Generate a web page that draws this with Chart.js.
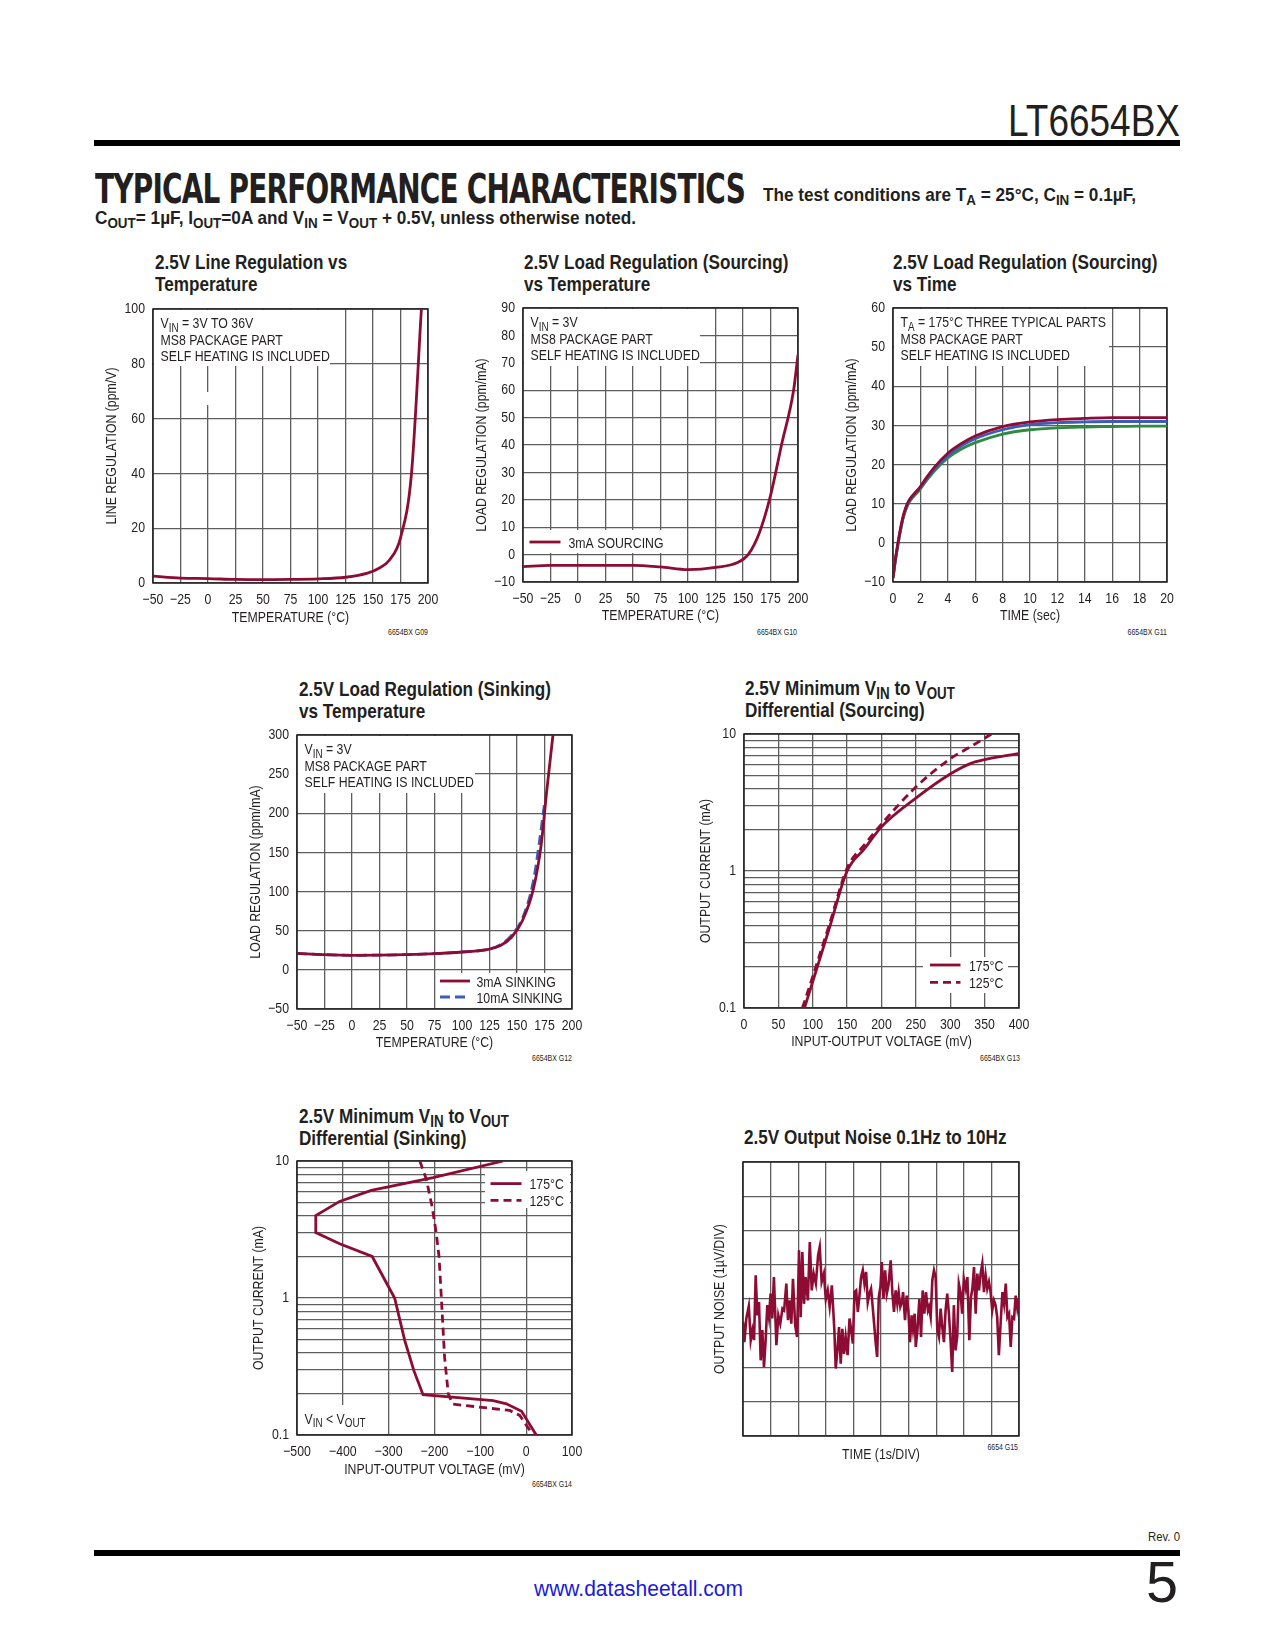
<!DOCTYPE html>
<html>
<head>
<meta charset="utf-8">
<script src="https://cdn.jsdelivr.net/npm/chart.js@4.4.1/dist/chart.umd.min.js"></script>
<style>
  body { margin: 0; background: #fff; }
  #page { position: relative; width: 1275px; height: 1650px; overflow: hidden;
          font-family: 'Liberation Sans', Arial, sans-serif; color: #231f20; }
  .abs { position: absolute; white-space: nowrap; }
  .rule { position: absolute; background: #000; }
  .ttl { position: absolute; white-space: nowrap; font-weight: bold; font-size: 20.5px; line-height: 22px;
         transform: scaleX(0.835); transform-origin: left top; }
  sub { font-size: 0.78em; vertical-align: -0.28em; line-height: 0; }
  .gid { position: absolute; width: 100px; text-align: right; font-size: 8.5px; line-height: 10px;
         transform: scaleX(0.82); transform-origin: right top; }
  canvas { position: absolute; }
</style>
</head>
<body>
<div id="page">
  <div class="abs" data-fit="172" style="left:1008px; top:96px; font-size:45px; line-height:50px; font-weight:300;">LT6654BX</div>
  <div class="rule" style="left:94px; top:140px; width:1086px; height:6px;"></div>

  <div class="abs" data-fit="650" style="left:95px; top:168px; font-family:'DejaVu Sans Condensed','DejaVu Sans',sans-serif; font-weight:bold; font-size:40px; line-height:42px; letter-spacing:-1px;">TYPICAL PERFORMANCE CHARACTERISTICS</div>
  <div class="abs" data-fit="373" style="left:763px; top:184px; font-weight:bold; font-size:19px; line-height:21px;">The test conditions are T<sub>A</sub> = 25°C, C<sub>IN</sub> = 0.1µF,</div>
  <div class="abs" data-fit="541" style="left:95px; top:207px; font-weight:bold; font-size:19px; line-height:21px;">C<sub>OUT</sub>= 1µF, I<sub>OUT</sub>=0A and V<sub>IN</sub> = V<sub>OUT</sub> + 0.5V, unless otherwise noted.</div>

  <div class="ttl" style="left:155px; top:250.5px;">2.5V Line Regulation vs<br>Temperature</div>
  <div class="ttl" style="left:524px; top:250.5px;">2.5V Load Regulation (Sourcing)<br>vs Temperature</div>
  <div class="ttl" style="left:893px; top:250.5px;">2.5V Load Regulation (Sourcing)<br>vs Time</div>
  <div class="ttl" style="left:299px; top:678px;">2.5V Load Regulation (Sinking)<br>vs Temperature</div>
  <div class="ttl" style="left:745px; top:676.5px;">2.5V Minimum V<sub>IN</sub> to V<sub>OUT</sub><br>Differential (Sourcing)</div>
  <div class="ttl" style="left:299px; top:1104.5px;">2.5V Minimum V<sub>IN</sub> to V<sub>OUT</sub><br>Differential (Sinking)</div>
  <div class="ttl" style="left:744px; top:1126px;">2.5V Output Noise 0.1Hz to 10Hz</div>

  <div class="gid" style="left:328px; top:627px;">6654BX G09</div>
  <div class="gid" style="left:697px; top:627px;">6654BX G10</div>
  <div class="gid" style="left:1067px; top:627px;">6654BX G11</div>
  <div class="gid" style="left:472px; top:1053px;">6654BX G12</div>
  <div class="gid" style="left:920px; top:1053px;">6654BX G13</div>
  <div class="gid" style="left:472px; top:1479px;">6654BX G14</div>
  <div class="gid" style="left:918px; top:1442px;">6654 G15</div>

  <div class="abs" data-fit="32" style="left:1148px; top:1530px; font-size:12px; line-height:14px;">Rev. 0</div>
  <div class="rule" style="left:94px; top:1550px; width:1086px; height:6px;"></div>
  <div class="abs" data-fit="209" style="left:534px; top:1576px; font-size:22px; line-height:26px; color:#1a1ad8;">www.datasheetall.com</div>
  <div class="abs" data-fit="32" style="left:1146px; top:1551px; font-size:58px; line-height:62px; font-weight:300;">5</div>
</div>

<script>
// ---- data ----

// 2.5V line regulation vs temperature (ppm/V)
const lineRegTemp = [-50, -25, 0, 25, 50, 75, 100, 125, 145, 155, 165, 175, 185, 194];
const lineRegPpm  = [2.5, 1.8, 1.6, 1.3, 1.2, 1.3, 1.5, 2.1, 3.6, 5.3, 8.4, 16.5, 40, 100];

// 2.5V load regulation (sourcing) vs temperature (ppm/mA)
const srcTemp = [-50, -25, 0, 25, 50, 75, 100, 125, 145, 155, 165, 175, 185, 196, 200];
const srcPpm  = [-4.4, -3.9, -3.9, -3.9, -3.9, -4.5, -5.5, -4.7, -2.9, 0.2, 8.1, 21.5, 40, 60, 73];

// 2.5V load regulation (sourcing) vs time, three parts at 175°C
const timeSec   = [0, 0.2, 0.8, 2, 3, 4, 5, 6, 8, 10, 12, 14, 16, 18, 20];
const partRed   = [-9, -3.5, 7.6, 14.4, 19.2, 22.9, 25.4, 27.3, 29.7, 30.9, 31.5, 31.8, 32, 32, 32];
const partBlue  = [-9, -3.8, 7.3, 14.2, 18.8, 22.3, 24.8, 26.6, 28.9, 30.2, 30.7, 30.9, 31, 31, 31];
const partGreen = [-9, -4, 7.0, 13.8, 18.3, 21.7, 24.0, 25.6, 27.8, 28.9, 29.4, 29.6, 29.7, 29.8, 29.8];

// 2.5V load regulation (sinking) vs temperature (ppm/mA)
const sink3Temp  = [-50, -25, 0, 25, 50, 75, 100, 125, 135, 145, 155, 165, 172, 177, 182.7];
const sink3Ppm   = [21, 19.4, 18.6, 18.8, 19.5, 20.7, 22.8, 26.6, 31, 41.6, 63, 104, 160, 228, 300];
const sink10Temp = [-50, -25, 0, 25, 50, 75, 100, 125, 135, 145, 155, 165, 170, 175];
const sink10Ppm  = [21, 19.4, 18.6, 18.8, 19.5, 20.7, 22.8, 26.6, 32, 44, 66, 114, 160, 212];

// minimum Vin-Vout differential, sourcing (mV -> mA)
const srcMv175 = [88, 100, 125, 150, 175, 200, 250, 300, 330, 350, 400];
const srcMa175 = [0.1, 0.156, 0.395, 1.0, 1.45, 2.1, 3.4, 5.1, 6.1, 6.5, 7.2];
const srcMv125 = [85, 100, 125, 150, 175, 200, 250, 300, 330, 360];
const srcMa125 = [0.1, 0.17, 0.42, 1.05, 1.55, 2.2, 4.1, 6.6, 8.1, 10];

// minimum Vin-Vout differential, sinking (mV -> mA)
const snkMv175 = [-50, -203, -338, -407, -459, -459, -407, -336, -287, -265, -245, -225, -72, -43, -10, 22];
const snkMa175 = [10, 7.55, 6.1, 5.07, 4.0, 3.0, 2.49, 2.01, 1.0, 0.49, 0.295, 0.197, 0.178, 0.169, 0.149, 0.1];
const snkMv125 = [-232, -218, -205, -196, -190, -185, -178, -170, -160, -36, -14, 15];
const snkMa125 = [10, 7.4, 4.6, 2.94, 1.99, 1.0, 0.37, 0.2, 0.168, 0.151, 0.139, 0.1];

const logTicks = [0.1, 0.2, 0.3, 0.4, 0.5, 0.6, 0.7, 0.8, 0.9, 1, 2, 3, 4, 5, 6, 7, 8, 9, 10];

// output noise 0.1Hz to 10Hz (time in divisions, noise in µV)
const noiseT = [0.00,0.05,0.12,0.21,0.28,0.34,0.40,0.46,0.52,0.58,0.64,0.70,0.76,0.82,0.88,0.94,1.00,1.06,1.12,1.21,
  1.28,1.35,1.43,1.49,1.57,1.63,1.69,1.75,1.81,1.89,1.96,2.03,2.09,2.15,2.21,2.27,2.35,2.42,2.49,2.56,
  2.64,2.72,2.78,2.85,2.93,3.00,3.07,3.14,3.22,
  3.31,3.36,3.42,3.48,3.54,3.60,3.66,3.72,3.79,3.86,3.92,3.98,4.04,4.10,4.16,4.22,4.28,4.34,4.40,4.46,
  4.52,4.58,4.64,4.69,4.75,4.81,4.86,4.92,4.98,5.03,5.09,5.15,5.21,5.27,5.35,5.41,5.47,5.53,5.59,5.64,
  5.70,5.76,5.80,5.87,5.93,5.99,6.05,6.11,6.16,6.22,6.26,6.32,6.39,6.45,6.51,6.57,6.63,6.70,
  6.74,6.80,6.86,6.92,6.98,7.04,7.10,7.16,7.22,7.28,7.34,7.40,7.46,7.52,7.58,7.64,7.70,7.76,7.82,7.88,
  7.94,8.00,8.07,8.13,8.20,8.26,8.31,8.37,8.43,8.49,8.55,8.61,8.67,8.73,8.79,8.85,8.91,8.97,9.03,9.09,
  9.15,9.21,9.27,9.34,9.40,9.46,9.52,9.58,9.64,9.70,9.76,9.82,9.88,9.94,10.00];
const noiseUv = [-0.67,-1.26,-0.57,-0.21,-1.2,-0.91,-1.2,0.69,-0.48,-0.09,-1.79,-0.91,-1.99,-1.2,-0.18,-0.53,0.16,-0.57,0.64,-1.35,
  -0.48,-0.72,-0.28,-0.33,0.45,-0.62,-0.04,-0.72,0.59,-0.77,-1.11,1.42,-0.53,1.37,-0.14,0.64,-0.04,1.66,0.25,0.74,
  0.45,1.27,1.52,0.5,0.74,0,0.25,-0.23,0.4,
  -0.91,-2.03,-1.5,-0.82,-1.89,-0.87,-1.6,-1.11,-1.64,-0.57,-0.91,-1.3,0.2,0.25,-0.38,0.1,0.64,0.84,0.45,0.79,
  -0.09,0.16,0.3,-0.14,-0.72,-1.3,-1.69,0.06,0.35,1.08,0,0.84,0.16,0.4,1.13,0.2,-0.38,0.25,-0.14,0.2,
  -0.23,-0.09,0.2,-0.62,0.1,-0.33,-1.26,-0.48,-0.87,-0.43,-1.4,-0.91,0,-1.11,0.25,-0.43,0.2,-0.33,
  -0.23,-0.53,0.55,0.84,0.64,-0.91,-1.11,-0.28,-0.82,-1.26,-0.33,0.16,-0.43,-1.2,-2.13,-0.18,-1.5,-1.11,0.45,0.2,
  -0.43,0.59,0.3,0.64,-1.2,0.06,0.3,0.93,-0.43,0.74,0.25,0.74,1.03,0.2,0.69,0.3,0.5,0.2,-0.33,-0.04,
  -0.18,-0.53,-1.64,-0.62,0.2,-0.14,0.45,-0.53,-0.43,-1.4,-0.53,-0.57,0.1,-0.28,0];

// ---- drawing ----
const FONT = "'Liberation Sans', Arial, sans-serif";
const NARROW = 0.82;              // no narrow face installed: squeeze the regular one
const TXT = 15;
const INK = '#231f20', GRID = '#5e5e5e';
const RED = '#8c0c34', BLUE = '#3b5cb8', GREEN = '#2f8a42';
const PAD_TOP = 20, PAD_RIGHT = 24;
Chart.defaults.font.family = FONT;
Chart.defaults.color = INK;

const pts = (xs, ys) => xs.map((x, i) => ({ x: x, y: ys[i] }));
const minus = v => String(v).replace('-', '\u2212');

// text like "V{IN} = 3V" : braces mark a subscript
function drawRich(ctx, x, y, str, size) {
  str.split(/(\{[^}]*\})/).forEach(part => {
    if (!part) return;
    const sub = part[0] === '{';
    const t = sub ? part.slice(1, -1) : part;
    ctx.font = (sub ? size * 0.8 : size) + 'px ' + FONT;
    ctx.fillText(t, x, sub ? y + 3.5 : y);
    x += ctx.measureText(t).width * NARROW;
  });
}

const notesPlugin = {
  id: 'notes',
  beforeDatasetsDraw(chart, args, o) {
    const { ctx, chartArea: a } = chart;
    ctx.save();
    ctx.fillStyle = '#fff';
    (o.boxes || []).forEach(b => ctx.fillRect(a.left + b[0], a.top + b[1], b[2], b[3]));
    ctx.strokeStyle = INK;
    ctx.lineWidth = 1.5;
    ctx.strokeRect(a.left, a.top, a.right - a.left, a.bottom - a.top);
    ctx.fillStyle = INK;
    ctx.textAlign = 'left';
    ctx.textBaseline = 'alphabetic';
    (o.texts || []).forEach(t => drawRich(ctx, a.left + t[0], a.top + t[1], t[2], TXT));
    (o.samples || []).forEach(s => {
      ctx.beginPath();
      ctx.setLineDash(s.dash || []);
      ctx.strokeStyle = s.color;
      ctx.lineWidth = 2.8;
      ctx.moveTo(a.left + s.x1, a.top + s.y);
      ctx.lineTo(a.left + s.x2, a.top + s.y);
      ctx.stroke();
    });
    ctx.restore();
  }
};

function axis(o, fit) {
  const ax = {
    type: o.type || 'linear', min: o.min, max: o.max,
    ticks: { display: o.labels !== false, stepSize: o.step, autoSkip: false, maxRotation: 0,
             padding: 8, font: { size: TXT }, color: INK, callback: o.cb || (v => minus(v)) },
    grid: { color: GRID, lineWidth: 1.3, drawTicks: false },
    border: { display: false },
    title: { display: true, text: o.title, font: { size: TXT }, color: INK, padding: 0 },
    afterFit: fit
  };
  if (o.type === 'logarithmic') {
    ax.afterBuildTicks = s => { s.ticks = logTicks.map(v => ({ value: v })); };
  }
  return ax;
}

const logLabel = v => ([0.1, 1, 10].some(d => Math.abs(v - d) < 1e-9) ? String(v) : '');

function makeChart(g, xo, yo, datasets, notes) {
  const cv = document.createElement('canvas');
  cv.width = g.wy + g.W + PAD_RIGHT;
  cv.height = PAD_TOP + g.H + g.hx;
  cv.style.left = (g.L - g.wy) + 'px';
  cv.style.top = (g.T - PAD_TOP) + 'px';
  document.getElementById('page').appendChild(cv);

  // every label on this canvas is drawn condensed around its anchor point
  const ctx = cv.getContext('2d');
  const rawFill = ctx.fillText.bind(ctx);
  ctx.fillText = function (text, x, y, maxWidth) {
    ctx.save();
    ctx.translate(x, y);
    ctx.scale(NARROW, 1);
    if (maxWidth === undefined) rawFill(text, 0, 0);
    else rawFill(text, 0, 0, maxWidth / NARROW);
    ctx.restore();
  };

  new Chart(cv, {
    type: 'line',
    data: { datasets: datasets },
    options: {
      responsive: false, animation: false, devicePixelRatio: 1,
      layout: { padding: { top: PAD_TOP, right: PAD_RIGHT, left: 0, bottom: 0 } },
      plugins: { legend: { display: false }, tooltip: { enabled: false }, notes: notes },
      elements: { point: { radius: 0 }, line: { borderWidth: 2.8, fill: false } },
      scales: {
        x: axis(xo, s => { s.height = g.hx; }),
        y: axis(yo, s => { s.width = g.wy; })
      }
    },
    plugins: [notesPlugin]
  });
}

const line = (data, color, extra) => Object.assign({ data: data, borderColor: color, cubicInterpolationMode: 'monotone' }, extra || {});
const NOTE3 = (first) => [[7.5, 19, first], [7.5, 35.5, 'MS8 PACKAGE PART'], [7.5, 52, 'SELF HEATING IS INCLUDED']];

// G09
makeChart({ L: 153, T: 309, W: 275, H: 274, wy: 50, hx: 44 },
  { min: -50, max: 200, step: 25, title: 'TEMPERATURE (°C)' },
  { min: 0, max: 100, step: 20, title: 'LINE REGULATION (ppm/V)' },
  [line(pts(lineRegTemp, lineRegPpm), RED)],
  { boxes: [[1, 1, 176, 56], [53, 83, 4, 13]], texts: NOTE3('V{IN} = 3V TO 36V') });

// G10
makeChart({ L: 523, T: 308, W: 275, H: 274, wy: 50, hx: 43 },
  { min: -50, max: 200, step: 25, title: 'TEMPERATURE (°C)' },
  { min: -10, max: 90, step: 10, title: 'LOAD REGULATION (ppm/mA)' },
  [line(pts(srcTemp, srcPpm), RED)],
  { boxes: [[1, 1, 176, 57], [1, 222, 141, 23]], texts: NOTE3('V{IN} = 3V').concat([[45.5, 239.5, '3mA SOURCING']]),
    samples: [{ x1: 6.5, x2: 37.5, y: 234, color: RED }] });

// G11
makeChart({ L: 893, T: 308, W: 274, H: 274, wy: 50, hx: 43 },
  { min: 0, max: 20, step: 2, title: 'TIME (sec)' },
  { min: -10, max: 60, step: 10, title: 'LOAD REGULATION (ppm/mA)' },
  [line(pts(timeSec, partRed), RED), line(pts(timeSec, partBlue), BLUE), line(pts(timeSec, partGreen), GREEN)],
  { boxes: [[1, 1, 215, 57]], texts: NOTE3('T{A} = 175°C THREE TYPICAL PARTS') });

// G12
makeChart({ L: 297, T: 735, W: 275, H: 274, wy: 50, hx: 43 },
  { min: -50, max: 200, step: 25, title: 'TEMPERATURE (°C)' },
  { min: -50, max: 300, step: 50, title: 'LOAD REGULATION (ppm/mA)' },
  [line(pts(sink3Temp, sink3Ppm), RED), line(pts(sink10Temp, sink10Ppm), BLUE, { borderDash: [10, 5] })],
  { boxes: [[1, 1, 177, 57], [141, 238, 133, 35]],
    texts: NOTE3('V{IN} = 3V').concat([[179.5, 251.5, '3mA SINKING'], [179.5, 267.5, '10mA SINKING']]),
    samples: [{ x1: 143, x2: 173, y: 246, color: RED }, { x1: 143, x2: 173, y: 262, color: BLUE, dash: [10, 5] }] });

// G13
makeChart({ L: 744, T: 734, W: 275, H: 274, wy: 47, hx: 43 },
  { min: 0, max: 400, step: 50, title: 'INPUT-OUTPUT VOLTAGE (mV)' },
  { type: 'logarithmic', min: 0.1, max: 10, title: 'OUTPUT CURRENT (mA)', cb: logLabel },
  [line(pts(srcMv175, srcMa175), RED), line(pts(srcMv125, srcMa125), RED, { borderDash: [8, 5] })],
  { boxes: [[179, 223, 85, 36]], texts: [[225, 236.5, '175°C'], [225, 253.8, '125°C']],
    samples: [{ x1: 186, x2: 216.5, y: 231, color: RED }, { x1: 186, x2: 216.5, y: 248.3, color: RED, dash: [8, 5] }] });

// G14
makeChart({ L: 297, T: 1161, W: 275, H: 274, wy: 47, hx: 44 },
  { min: -500, max: 100, step: 100, title: 'INPUT-OUTPUT VOLTAGE (mV)' },
  { type: 'logarithmic', min: 0.1, max: 10, title: 'OUTPUT CURRENT (mA)', cb: logLabel },
  [line(pts(snkMv175, snkMa175), RED, { cubicInterpolationMode: 'default', tension: 0 }),
   line(pts(snkMv125, snkMa125), RED, { cubicInterpolationMode: 'default', tension: 0, borderDash: [8, 5] })],
  { boxes: [[188, 10, 85, 37], [1, 244, 72, 29]],
    texts: [[232.5, 28, '175°C'], [232.5, 44.7, '125°C'], [7.5, 262.5, 'V{IN} < V{OUT}']],
    samples: [{ x1: 193.5, x2: 224.5, y: 22.6, color: RED }, { x1: 193.5, x2: 224.5, y: 39.3, color: RED, dash: [8, 5] }] });

// G15
makeChart({ L: 743, T: 1162, W: 276, H: 274, wy: 32, hx: 28 },
  { min: 0, max: 10, step: 1, title: 'TIME (1s/DIV)', labels: false },
  { min: -4, max: 4, step: 1, title: 'OUTPUT NOISE (1µV/DIV)', labels: false },
  [line(pts(noiseT, noiseUv), RED, { cubicInterpolationMode: 'default', tension: 0, borderWidth: 2.6 })],
  {});

// squeeze page text to the widths seen in the reference
document.querySelectorAll('[data-fit]').forEach(el => {
  const w = el.getBoundingClientRect().width;
  el.style.transformOrigin = 'left top';
  el.style.transform = 'scaleX(' + (+el.dataset.fit / w) + ')';
});
</script>
</body>
</html>
